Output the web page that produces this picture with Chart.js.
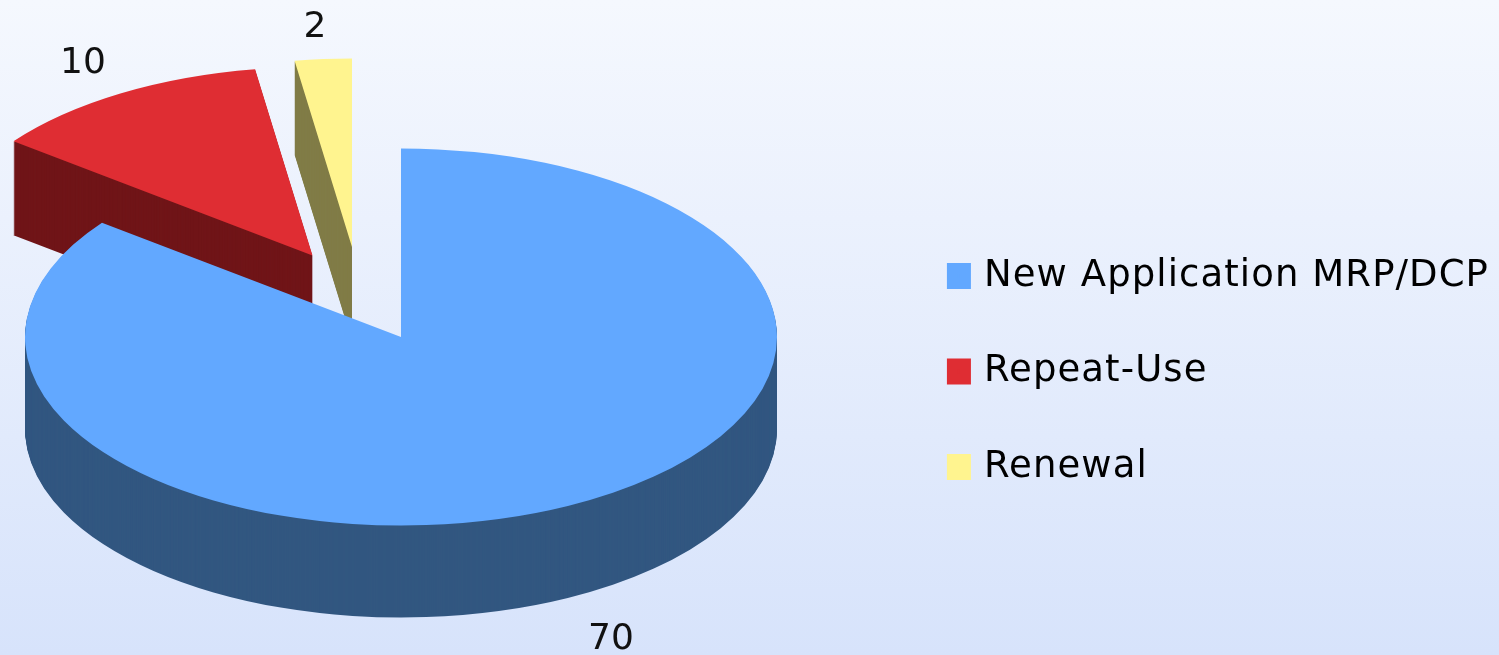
<!DOCTYPE html>
<html><head><meta charset="utf-8">
<style>html,body{margin:0;padding:0;width:1499px;height:655px;overflow:hidden;background:linear-gradient(to bottom,#f5f8fe 0%,#d7e3fb 100%)}canvas{display:block}</style>
<script src="https://cdn.jsdelivr.net/npm/chart.js@4/dist/chart.umd.min.js"></script>
</head><body><canvas id="c" width="1499" height="655"></canvas>
<script>
const categories = ['New Application MRP/DCP','Repeat-Use','Renewal'];
const values = [70,10,2];
const topColors = ['#62a8ff','#df2d33','#fff48f'];
const sideColors = ['#325780','#701518','#807c47'];
const FONT = 'Verdana, "DejaVu Sans", sans-serif';
const LABEL_SIZE = 36;
const LEGEND_SIZE = 37;
const LEGEND_TRACKING = '1.09px';
// 3D-look view: ellipse radii, depth, per-slice explosion and label anchors
const view = {cx:401, cy:337, rx:376, ry:188.5, depth:[92,94,94],
  shift:[[0,0],[-88.5,-81.5],[-49,-90]],
  labels:[[611,640],[83,64],[315,28]]};

const pie3d = {
  id:'pie3d',
  beforeUpdate(chart){chart.ctx.letterSpacing = LEGEND_TRACKING;},
  beforeDraw(chart){chart.ctx.letterSpacing = LEGEND_TRACKING;},
  beforeDatasetsDraw(chart){
    const ctx = chart.ctx, arcs = chart.getDatasetMeta(0).data;
    [2,1,0].forEach(i=>{
      const el = arcs[i], R = el.outerRadius, s = view.shift[i];
      const place = (dy)=>{
        ctx.setTransform(view.rx/R,0,0,view.ry/R,view.cx+s[0]-el.x*view.rx/R,view.cy+s[1]+dy-el.y*view.ry/R);
      };
      const orig = el.options;
      ctx.save();
      el.options = Object.assign({},orig,{backgroundColor:sideColors[i],borderColor:sideColors[i],borderWidth:0});
      for(let d=view.depth[i];d>0;d--){place(d);el.draw(ctx);}
      el.options = Object.assign({},orig,{borderWidth:0});
      place(0);el.draw(ctx);
      el.options = orig;
      ctx.restore();
    });
    ctx.setTransform(1,0,0,1,0,0);
    return false;
  },
  afterDraw(chart){
    const ctx = chart.ctx;
    ctx.save();
    ctx.letterSpacing = '0px';
    ctx.font = LABEL_SIZE+'px '+FONT;
    ctx.fillStyle = '#111';
    ctx.textAlign='center';ctx.textBaseline='middle';
    values.forEach((v,i)=>ctx.fillText(String(v),view.labels[i][0],view.labels[i][1]));
    ctx.restore();
  }
};

new Chart(document.getElementById('c'),{
  type:'pie',
  data:{labels:categories,datasets:[{data:values,backgroundColor:topColors,borderWidth:0}]},
  options:{
    responsive:false,animation:false,
    layout:{padding:{top:88,right:0,left:0,bottom:0}},
    plugins:{
      tooltip:{enabled:false},
      legend:{position:'right',labels:{
        font:{family:FONT,size:LEGEND_SIZE},color:'#111',boxWidth:13,boxHeight:15,padding:58.5,
        generateLabels(){return categories.map((t,i)=>({text:t,fillStyle:topColors[i],strokeStyle:topColors[i],lineWidth:11,hidden:false,index:i}));}
      }}
    }
  },
  plugins:[pie3d]
});
</script></body></html>
